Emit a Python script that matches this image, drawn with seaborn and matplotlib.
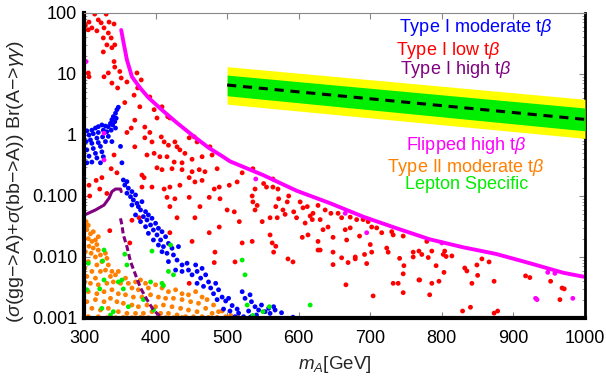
import numpy as np
import pandas as pd
import matplotlib
matplotlib.use("Agg")
import matplotlib.pyplot as plt
import seaborn as sns

sns.set_style("ticks")
plt.rcParams["font.family"] = ["Liberation Sans", "DejaVu Sans"]
plt.rcParams["mathtext.fontset"] = "custom"
plt.rcParams["mathtext.rm"] = "Liberation Sans"
plt.rcParams["mathtext.it"] = "Liberation Sans:italic"
plt.rcParams["axes.unicode_minus"] = False

# ---- data ----
red_x = [315, 331, 307, 320, 324, 335, 342, 311, 318, 328, 334, 327, 338, 343, 332, 327, 339, 306, 307, 342,
         343, 334, 350, 328, 352, 339, 347, 360, 374, 380, 375, 392, 370, 357, 378, 398, 409, 417, 420, 402,
         371, 366, 360, 385, 392, 385, 395, 408, 412, 418, 427, 430, 434, 447, 454, 458, 441, 416, 406, 388,
         398, 437, 451, 476, 479, 465, 426, 342, 371, 302, 306,
         338, 317, 325, 307, 322, 332, 308, 346, 381, 384, 402, 409, 423, 437, 451, 461, 469, 486, 381, 395,
         412, 420, 434, 447, 455, 465, 482, 489, 503, 514, 521, 416, 427, 420, 447, 430, 455, 462, 475, 490,
         500, 510, 517, 489, 475, 451, 420, 367, 364, 336, 377, 521, 483, 482, 447, 511,
         536, 539, 535, 536, 542, 539, 551, 555, 564, 564, 571, 572, 568, 560, 549, 570, 578, 581, 584, 586,
         593, 597, 602, 606, 612, 616, 620, 627, 619, 630, 637, 641, 645, 655, 660, 672, 681, 672, 690, 697,
         702, 709, 716, 730, 732, 746, 609, 605, 613, 627, 634, 648, 665, 667, 685, 560, 563, 568, 565, 585,
         592, 535, 627, 630, 648, 648, 660, 669, 679, 679, 695, 692, 700, 702, 723, 725, 741, 747, 746, 760,
         760, 768, 732, 739, 746, 704, 666,
         779, 768, 772, 781, 786, 792, 769, 786, 796, 783, 803, 802, 804, 806, 814, 832, 835, 849, 850, 856,
         866, 842, 873, 829, 840, 873, 878, 917, 923, 952, 965, 968, 971]
red_y = [96, 96, 71, 77, 69, 71, 66, 57, 51, 57, 47, 39, 39, 30, 30, 23, 27, 10.4, 9, 16,
         13, 10.4, 11, 9, 8.6, 7.1, 5.9, 7.4, 10.4, 8, 5.9, 4.2, 4.5, 3.4, 2.9, 2.6, 2.9, 2.0, 1.9, 1.9,
         1.75, 1.3, 1.1, 1.35, 1.1, 0.9, 0.77, 0.93, 0.77, 0.68, 0.77, 0.64, 0.57, 0.9, 0.93, 0.77, 0.5, 0.44, 0.44, 0.47,
         0.5, 0.35, 0.4, 0.64, 0.47, 0.44, 0.36, 0.47, 0.64, 63, 53,
         0.28, 0.18, 0.2, 0.15, 0.13, 0.11, 0.1, 0.24, 0.22, 0.2, 0.29, 0.27, 0.28, 0.27, 0.25, 0.27, 0.25, 0.28, 0.14, 0.14,
         0.13, 0.14, 0.15, 0.2, 0.17, 0.18, 0.13, 0.14, 0.15, 0.17, 0.24, 0.095, 0.09, 0.067, 0.095, 0.044, 0.044, 0.067, 0.095, 0.09,
         0.059, 0.055, 0.038, 0.031, 0.025, 0.018, 0.025, 0.04, 0.017, 0.027, 0.044, 0.017, 0.012, 0.0081, 0.0037, 0.0083,
         0.28, 0.13, 0.1, 0.08, 0.07, 0.059, 0.16, 0.14, 0.19, 0.14, 0.13, 0.09, 0.067, 0.044, 0.038, 0.044, 0.059, 0.05, 0.08, 0.1,
         0.055, 0.044, 0.08, 0.064, 0.067, 0.047, 0.052, 0.07, 0.041, 0.041, 0.059, 0.031, 0.052, 0.052, 0.044, 0.045, 0.041, 0.03, 0.041, 0.038,
         0.031, 0.03, 0.025, 0.026, 0.023, 0.022, 0.036, 0.021, 0.023, 0.018, 0.028, 0.021, 0.028, 0.019, 0.022, 0.023, 0.017, 0.015, 0.012, 0.0093,
         0.0083, 0.018, 0.013, 0.013, 0.012, 0.0075, 0.0097, 0.0081, 0.01, 0.0093, 0.0078, 0.011, 0.016, 0.012, 0.014, 0.012, 0.0095, 0.0072, 0.0053, 0.012,
         0.01, 0.0042, 0.0037, 0.0037, 0.0026, 0.0023, 0.0035,
         0.018, 0.0125, 0.011, 0.0098, 0.0125, 0.0072, 0.0042, 0.0037, 0.004, 0.0024, 0.0056, 0.011, 0.0125, 0.0102, 0.0104, 0.0066, 0.0059, 0.0074, 0.005, 0.0093,
         0.0083, 0.0037, 0.004, 0.0013, 0.0015, 0.0012, 0.0013, 0.0049, 0.0046, 0.004, 0.002, 0.0031, 0.003]

blue_x = [348, 346, 344, 341, 345, 339, 343, 337, 340, 334, 330, 325, 320, 316, 311, 304, 307, 313, 320, 327,
          332, 338, 344, 334, 326, 318, 309, 303, 311, 320, 330, 339, 323, 313, 304, 316, 325, 307, 318, 327,
          311, 304, 323, 353, 351,
          355, 360, 357, 362, 367, 360, 365, 372, 369, 374, 367, 376, 381, 379, 386, 372, 383, 390, 388, 395,
          379, 393, 400, 386, 397, 404, 390, 402, 409, 397, 407, 414, 404, 411, 418, 409, 416, 423, 425, 432,
          430, 418, 437, 428, 437, 444, 446, 456, 451, 458, 465, 463, 470, 458, 474, 467, 477, 484, 481, 488,
          493, 486, 498, 502, 495, 507, 504, 514, 516, 521, 525, 511, 523, 530, 532,
          532, 534, 539, 544, 548, 553, 558, 565, 567, 560, 576, 592, 534, 541]
blue_y = [2.85, 2.6, 2.27, 2.0, 1.88, 1.78, 1.65, 1.55, 1.46, 1.37, 1.4, 1.46, 1.37, 1.3, 1.2, 1.17, 1.0, 1.05, 1.1, 1.2,
          1.13, 1.2, 1.3, 0.95, 0.93, 0.89, 0.83, 0.78, 0.73, 0.75, 0.78, 0.78, 0.65, 0.6, 0.57, 0.5, 0.53, 0.45, 0.42, 0.44,
          0.36, 0.35, 0.35, 0.35, 0.65,
          0.183, 0.172, 0.151, 0.134, 0.118, 0.111, 0.0975, 0.104, 0.086, 0.0758, 0.0711, 0.0668, 0.0807, 0.059, 0.0554, 0.0489, 0.0459, 0.0489, 0.0404, 0.0431,
          0.038, 0.0335, 0.0357, 0.0314, 0.0277, 0.0295, 0.0244, 0.023, 0.026, 0.019, 0.019, 0.0215, 0.0157, 0.0148, 0.0167, 0.0122, 0.0115, 0.0139, 0.0108, 0.0148,
          0.0089, 0.0084, 0.0074, 0.0061, 0.0058, 0.0079, 0.0061, 0.0074, 0.0051, 0.0058, 0.0065, 0.0045, 0.0051, 0.0037, 0.0039, 0.0033, 0.0031, 0.0037, 0.0025, 0.0029,
          0.0022, 0.002, 0.0019, 0.0021, 0.0014, 0.0016, 0.0013, 0.0014, 0.0012, 0.0027, 0.0021, 0.00105, 0.00105, 0.0013, 0.00102,
          0.0024, 0.00185, 0.00153, 0.00135, 0.00163, 0.00127, 0.00144, 0.00153, 0.00135, 0.00119, 0.00122, 0.00103, 0.00105, 0.00112]

orange_x = [303, 306, 304, 309, 306, 311, 316, 307, 313, 318, 320, 310, 316, 323, 330, 325, 332, 306, 318, 334,
            311, 323, 330, 339, 304, 316, 337, 344, 348, 309, 320, 332, 341, 351, 358, 362, 372, 379, 386, 367,
            376, 390, 400, 409, 418, 428, 437, 446, 456, 465, 472, 481, 488, 498, 306, 318, 328, 339, 348, 358,
            369, 381, 393, 404, 414, 425, 437, 449, 460, 470, 479, 304, 316, 328, 337, 346, 355, 367, 376, 388,
            400, 411, 423, 435, 446, 458, 465, 311, 323, 334, 348, 360, 372, 383, 395, 407, 418, 430, 442, 453,
            306, 320, 332, 344, 355, 367, 379, 390, 402, 414, 425, 437, 474, 486, 301, 302, 301, 313, 320, 301,
            505, 515, 493]
orange_y = [0.038, 0.033, 0.028, 0.024, 0.020, 0.018, 0.019, 0.015, 0.014, 0.016, 0.013, 0.0115, 0.010, 0.0108, 0.0115, 0.0084, 0.0095, 0.0084, 0.0074, 0.0074,
            0.0058, 0.0058, 0.0061, 0.0058, 0.0048, 0.0045, 0.0048, 0.0051, 0.0058, 0.0037, 0.0035, 0.0037, 0.0039, 0.0037, 0.0045, 0.0037, 0.0039, 0.0042, 0.0037, 0.0031,
            0.0029, 0.0031, 0.0035, 0.0031, 0.0027, 0.0029, 0.0025, 0.0024, 0.0027, 0.0022, 0.0020, 0.00163, 0.00127, 0.00105, 0.0027, 0.0025, 0.0027, 0.0029, 0.0025, 0.0024,
            0.0022, 0.0022, 0.0024, 0.0022, 0.0021, 0.0021, 0.0020, 0.00185, 0.00174, 0.00144, 0.00119, 0.00185, 0.0020, 0.00185, 0.0021, 0.00185, 0.00174, 0.00163, 0.00153, 0.00163,
            0.00153, 0.00163, 0.00153, 0.00144, 0.00135, 0.00127, 0.00105, 0.00144, 0.00135, 0.00144, 0.00127, 0.00119, 0.00119, 0.00119, 0.00127, 0.00119, 0.00119, 0.00112, 0.00105, 0.00105,
            0.00105, 0.00105, 0.00101, 0.00101, 0.00102, 0.00101, 0.00102, 0.00101, 0.00101, 0.00101, 0.00101, 0.00102, 0.00102, 0.00102, 0.031, 0.0122, 0.0065, 0.026, 0.0215, 0.0039,
            0.0011, 0.00105, 0.0013]

green_x = [421, 395, 357, 328, 306, 326, 360, 418, 409, 411, 393, 425, 328, 353, 348, 355, 304, 362, 383, 397,
           341, 337, 521, 525, 528, 325, 616, 559, 550, 322, 536]
green_y = [0.0157, 0.0125, 0.0111, 0.013, 0.0079, 0.0086, 0.0074, 0.0058, 0.0037, 0.0034, 0.0039, 0.0051, 0.0042, 0.0042, 0.0039, 0.003, 0.0029, 0.00153, 0.002, 0.00135,
           0.00127, 0.00112, 0.0089, 0.0051, 0.00163, 0.00144, 0.00163, 0.00153, 0.00127, 0.003, 0.0011]

mag_pts_x = [303, 328, 328, 540, 665, 695, 800, 931, 933, 948, 958, 983]
mag_pts_y = [16, 1.07, 0.39, 0.19, 0.052, 0.025, 0.017, 0.0021, 0.002, 0.0056, 0.0054, 0.0021]

mag_x = [352, 355, 360, 367, 379, 390, 409, 428, 451, 474, 493, 504, 532, 550, 597, 644, 690, 737, 783,
         830, 876, 923, 970, 998]
mag_y = [52.6, 34, 17, 9.0, 5.8, 4.1, 2.57, 1.65, 1.0, 0.62, 0.45, 0.37, 0.27, 0.221, 0.122, 0.076, 0.0458,
         0.0295, 0.0195, 0.0144, 0.0112, 0.0079, 0.0055, 0.00475]

purple_x = [301, 316, 328, 335, 339, 344, 351, 352]
purple_y = [0.049, 0.059, 0.071, 0.092, 0.118, 0.13, 0.13, 0.118]
purple_dn_x = [351, 353, 355, 360, 365, 372, 379, 388, 397, 407]
purple_dn_y = [0.043, 0.0335, 0.023, 0.0148, 0.0084, 0.0051, 0.0031, 0.002, 0.00135, 0.00105]

band_x = [500, 1000]
band_mid = [6.6, 1.8]
band_1s_lo = [4.4, 1.17]
band_1s_hi = [9.6, 2.77]
band_2s_lo = [3.2, 0.88]
band_2s_hi = [13.2, 3.85]

labels = ["Type I moderate t$\\beta$", "Type I low t$\\beta$", "Type I high t$\\beta$",
          "Flipped high t$\\beta$", "Type II moderate t$\\beta$", "Lepton Specific"]
label_colors = ["#0000ff", "#ff0000", "#800080", "#ff00ff", "#ff8000", "#00ee00"]
label_pos = [(0.782, 0.954), (0.727, 0.878), (0.742, 0.814), (0.762, 0.567), (0.762, 0.495), (0.764, 0.437)]

# ---- plot ----
fig = plt.figure(figsize=(6.06, 3.79), dpi=100)
ax = fig.add_axes([0.1386, 0.161, 0.8267, 0.8047])

pt = dict(s=12, edgecolor="none", linewidth=0, ax=ax, legend=False)
sns.scatterplot(x=red_x, y=red_y, color="#ff0000", **pt)
sns.scatterplot(x=orange_x, y=orange_y, color="#ff8000", **pt)
sns.scatterplot(x=blue_x, y=blue_y, color="#0000ff", **pt)
sns.scatterplot(x=green_x, y=green_y, color="#00ee00", **pt)
sns.scatterplot(x=mag_pts_x, y=mag_pts_y, color="#ff00ff", **pt)

sns.lineplot(x=purple_x, y=purple_y, color="#800080", lw=2.2, ax=ax, estimator=None, sort=False)
sns.lineplot(x=purple_dn_x, y=purple_dn_y, color="#800080", lw=2.2, ax=ax, estimator=None, sort=False,
             dashes=False, linestyle=(0, (2, 1)))
sns.lineplot(x=mag_x, y=mag_y, color="#ff00ff", lw=2.8, ax=ax, estimator=None, sort=False)

ax.fill_between(band_x, band_2s_lo, band_2s_hi, color="#ffff00", lw=0, zorder=5)
ax.fill_between(band_x, band_1s_lo, band_1s_hi, color="#00ee00", lw=0, zorder=6)
ax.plot(band_x, band_mid, color="black", lw=2.2, ls=(0, (3, 2.2)), zorder=7)

ax.set_yscale("log")
ax.set_xlim(300, 1000)
ax.set_ylim(0.001, 100)
ax.set_xticks([300, 400, 500, 600, 700, 800, 900, 1000])
ax.set_yticks([0.001, 0.01, 0.1, 1, 10, 100])
ax.set_yticklabels(["0.001", "0.010", "0.100", "1", "10", "100"])
ax.tick_params(axis="both", which="major", direction="in", length=4, width=0.8,
               top=True, right=True, labelsize=13, colors="#888888", labelcolor="black")
ax.tick_params(axis="x", which="major", pad=9)
ax.tick_params(axis="y", which="major", pad=5)
ax.tick_params(axis="y", which="minor", direction="in", length=2, width=0.6, right=True, colors="#888888")

for side in ["left", "bottom"]:
    ax.spines[side].set_linewidth(3)
    ax.spines[side].set_color("black")
ax.spines["right"].set_linewidth(2)
ax.spines["right"].set_color("black")
ax.spines["top"].set_linewidth(0.8)
ax.spines["top"].set_color("#888888")

ax.set_xlabel("$m_A$[GeV]", fontsize=13.5, labelpad=5)
ax.set_ylabel("")
fig.text(0.026, 1 - 182 / 379, "($\\sigma$(gg\u2212>A)+$\\sigma$(bb\u2212>A)) Br(A\u2212>$\\gamma\\gamma$)",
         rotation=90, ha="center", va="center", fontsize=14)

for txt, c, (px, py) in zip(labels, label_colors, label_pos):
    ax.text(px, py, txt, color=c, fontsize=13, ha="center", va="center", transform=ax.transAxes, zorder=10)

fig.savefig("out.png", dpi=100)
plt.close(fig)
